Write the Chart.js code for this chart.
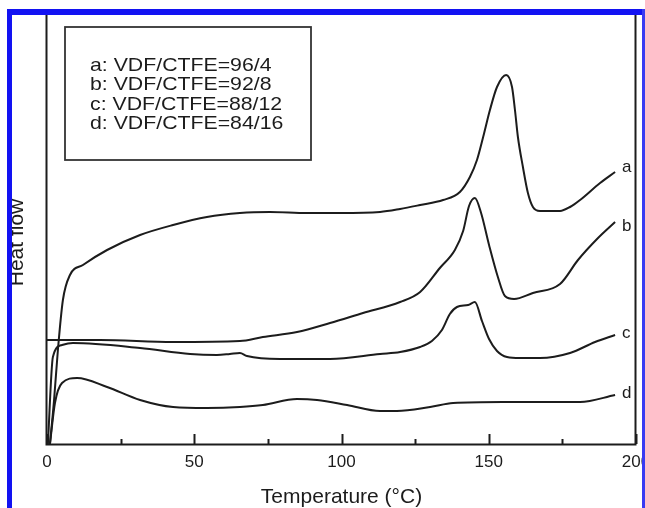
<!DOCTYPE html>
<html>
<head>
<meta charset="utf-8">
<script src="https://cdn.jsdelivr.net/npm/chart.js@4.4.0/dist/chart.umd.min.js"></script>
<style>
  html, body { margin: 0; padding: 0; background: #fff; }
  #wrap { position: relative; width: 645px; height: 508px; }
</style>
</head>
<body>
<div id="wrap"><canvas id="dsc" width="645" height="508"></canvas></div>
<script>
// curvas DSC (temperatura en °C, flujo en unidades arbitrarias)
const tempA = [1.0, 2.4, 3.7, 5.4, 7.8, 12.2, 20.4, 31.6, 42.8, 54.3, 65.5, 75.7, 88.3, 99.5, 113.1, 119.9, 126.7, 134.5, 140.2, 143.6, 146.0, 148.1, 150.4, 152.8, 155.9, 157.9, 158.9, 159.9, 161.6, 163.3, 165.0, 167.4, 174.2, 177.6, 181.0, 187.8, 192.9];
const flujoA = [0, 44, 94, 144, 169, 179, 194, 209, 219, 227, 231, 232, 231, 231, 232, 235, 239, 244, 252, 267, 284, 307, 334, 357, 369, 357, 334, 307, 277, 251, 237, 233, 233, 237, 244, 261, 272];

const tempB = [0, 18.0, 42.8, 65.5, 73.3, 84.9, 96.1, 107.3, 119.9, 126.7, 133.4, 138.5, 141.3, 143.3, 145.3, 147.4, 150.1, 153.1, 155.5, 158.6, 165.0, 174.2, 180.3, 187.1, 192.9];
const flujoB = [104, 104, 102, 103, 107, 112, 121, 131, 142, 152, 176, 194, 213, 238, 246, 231, 199, 167, 148, 145, 151, 160, 184, 206, 222];

const tempC = [0.3, 2.0, 5.1, 8.8, 31.6, 48.6, 57.7, 62.1, 65.5, 67.9, 79.1, 96.1, 113.1, 119.9, 126.7, 130.7, 134.1, 136.8, 139.2, 143.0, 145.3, 147.7, 150.1, 152.8, 156.2, 160.6, 167.4, 177.6, 186.1, 192.9];
const flujoC = [0, 87, 99, 101, 96, 90, 89, 90, 91, 88, 85, 85, 90, 92, 97, 103, 114, 130, 137, 139, 142, 123, 105, 93, 87, 86, 86, 91, 102, 109];

const tempD = [1.0, 2.7, 5.1, 10.2, 20.4, 31.6, 42.8, 54.3, 65.5, 73.3, 84.9, 91.7, 101.9, 113.1, 118.8, 130.1, 137.9, 154.8, 181.0, 192.9];
const flujoD = [0, 41, 61, 66, 57, 44, 37, 36, 37, 39, 45, 44, 39, 33, 33, 37, 41, 42, 42, 49];

const letras = ['a', 'b', 'c', 'd'];
const leyenda = ['a: VDF/CTFE=96/4', 'b: VDF/CTFE=92/8', 'c: VDF/CTFE=88/12', 'd: VDF/CTFE=84/16'];
const ticksX = [0, 25, 50, 75, 100, 125, 150, 175, 200];

const fuente = '"Liberation Sans", Arial, sans-serif';
const tinta = '#1c1c1c';

function unir(xs, ys) {
    return xs.map((x, i) => ({ x: x, y: ys[i] }));
}

function serie(letra, xs, ys) {
    return {
        label: letra,
        data: unir(xs, ys),
        borderColor: tinta,
        borderWidth: 2,
        pointRadius: 0,
        fill: false,
        cubicInterpolationMode: 'monotone'
    };
}

// marco, marcas del eje, leyenda, letras y el borde azul
const adornos = {
    id: 'adornos',
    afterDraw(chart) {
        const ctx = chart.ctx;
        const a = chart.chartArea;
        const sx = chart.scales.x;
        ctx.save();

        ctx.strokeStyle = tinta;
        ctx.lineWidth = 2;
        ctx.strokeRect(a.left - 0.5, a.top, a.right - a.left, a.bottom - a.top + 0.5);

        ticksX.forEach(v => {
            const px = Math.round(sx.getPixelForValue(v)) + 0.5;
            const largo = v % 50 === 0 ? 10 : 5;
            ctx.beginPath();
            ctx.moveTo(px, a.bottom);
            ctx.lineTo(px, a.bottom - largo);
            ctx.stroke();
        });

        // leyenda
        ctx.lineWidth = 1.8;
        ctx.strokeStyle = '#333';
        ctx.strokeRect(65, 27, 246, 133);
        ctx.fillStyle = tinta;
        ctx.font = '19px ' + fuente;
        ctx.textBaseline = 'alphabetic';
        ctx.textAlign = 'left';
        leyenda.forEach((t, i) => {
            ctx.save();
            ctx.translate(90, 70.5 + i * 19.5);
            ctx.scale(1.12, 1);
            ctx.fillText(t, 0, 0);
            ctx.restore();
        });

        // letras al final de cada curva
        const ajuste = [-5, 4, -2, -2];
        ctx.font = '17px ' + fuente;
        ctx.textBaseline = 'middle';
        chart.data.datasets.forEach((ds, i) => {
            const ult = ds.data[ds.data.length - 1];
            const px = sx.getPixelForValue(ult.x);
            const py = chart.scales.y.getPixelForValue(ult.y);
            ctx.fillText(letras[i], px + 7, py + ajuste[i]);
        });

        // titulo del eje y
        ctx.save();
        ctx.translate(17, 242.5);
        ctx.rotate(-Math.PI / 2);
        ctx.font = '21px ' + fuente;
        ctx.textAlign = 'center';
        ctx.textBaseline = 'middle';
        ctx.fillText('Heat flow', 0, 0);
        ctx.restore();

        // borde azul de la imagen
        ctx.fillStyle = '#1212f2';
        ctx.fillRect(7, 9, 638, 6);
        ctx.fillRect(7, 9, 5, 499);
        ctx.fillStyle = '#3a3af2';
        ctx.fillRect(642, 9, 3, 499);
        ctx.restore();
    }
};

const ctx = document.getElementById('dsc').getContext('2d');
new Chart(ctx, {
    type: 'line',
    data: {
        datasets: [
            serie('a', tempA, flujoA),
            serie('b', tempB, flujoB),
            serie('c', tempC, flujoC),
            serie('d', tempD, flujoD)
        ]
    },
    options: {
        responsive: false,
        animation: false,
        layout: { padding: { left: 47, right: 9, top: 14, bottom: 0 } },
        plugins: {
            legend: { display: false },
            tooltip: { enabled: false }
        },
        scales: {
            x: {
                type: 'linear',
                min: 0,
                max: 200,
                grid: { display: false, drawTicks: false, tickLength: 0 },
                border: { display: false },
                ticks: {
                    stepSize: 25,
                    autoSkip: false,
                    maxRotation: 0,
                    padding: 8,
                    color: tinta,
                    font: { family: fuente, size: 17 },
                    callback: v => (v % 50 === 0 ? String(v) : '')
                },
                title: {
                    display: true,
                    text: 'Temperature (°C)',
                    color: tinta,
                    font: { family: fuente, size: 21, lineHeight: 1 },
                    padding: { top: 0, bottom: 0 }
                },
                afterFit: s => {
                    s.paddingLeft = 0;
                    s.paddingRight = 0;
                    s.height = 64;
                }
            },
            y: {
                display: false,
                min: 0,
                max: 430
            }
        }
    },
    plugins: [adornos]
});
</script>
</body>
</html>
